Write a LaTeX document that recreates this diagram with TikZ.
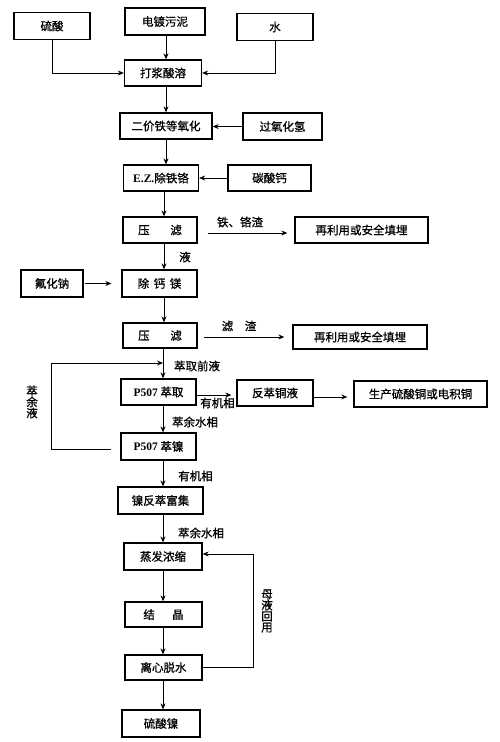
\documentclass[tikz,border=0pt]{standalone}
\usepackage{fontspec}
\setmainfont{Liberation Serif}
\newfontfamily\cjk[FakeBold=0.8]{Noto Sans CJK SC}
\usetikzlibrary{arrows.meta}
\tikzset{
  box/.style={draw, line width=1.3pt, inner sep=0pt, font=\cjk\fontsize{11.5}{12}\selectfont},
  lbl/.style={inner sep=0pt, font=\cjk\fontsize{11.5}{12}\selectfont},
  vlbl/.style={inner sep=0pt, align=center, font=\cjk\fontsize{11.5}{11}\selectfont},
  arr/.style={line width=0.9pt, -{Stealth[length=6pt,width=5pt]}},
  ln/.style={line width=0.9pt}
}
\newcommand{\bx}[5]{\node[box, minimum width=#3pt, minimum height=#4pt] (#1) at (#2) {#5};}
\begin{document}
\begin{tikzpicture}[x=1pt,y=-1pt]
\useasboundingbox (0,0) rectangle (500,742);
% boxes
\bx{acid}{52,26}{76}{27}{硫酸}
\bx{sludge}{165,21.5}{80}{27}{电镀污泥}
\bx{water}{275,27}{76}{27}{水}
\bx{pulp}{163,73}{77}{26}{打浆酸溶}
\bx{oxid}{166,126}{92}{26}{二价铁等氧化}
\bx{hoo}{282.5,126.5}{79}{27}{过氧化氢}
\bx{ez}{161,178}{75}{26}{{\rmfamily\bfseries E.Z.}除铁铬}
\bx{caco}{269.5,178}{83}{26}{碳酸钙}
\bx{pfa}{160,230}{74}{26}{压\hspace{1.8em}滤}
\bx{reusea}{361.5,230}{133}{26}{再利用或安全填埋}
\bx{rmca}{159.5,283.5}{75}{27}{除\hspace{0.4em}钙\hspace{0.4em}镁}
\bx{naf}{52,283.5}{62}{27}{氟化钠}
\bx{pfb}{160,335.5}{74}{25}{压\hspace{1.8em}滤}
\bx{reuseb}{360,337}{134}{24}{再利用或安全填埋}
\bx{ext}{158.5,392}{75}{26}{{\rmfamily\bfseries P507} 萃取}
\bx{cu}{275,393}{76}{26}{反萃铜液}
\bx{cuprod}{420.5,394}{133}{26}{生产硫酸铜或电积铜}
\bx{ni}{158.5,446.5}{75}{27}{{\rmfamily\bfseries P507} 萃镍}
\bx{strip}{160.5,500.5}{85}{27}{镍反萃富集}
\bx{evap}{163,556.5}{78}{27}{蒸发浓缩}
\bx{cryst}{163.5,614.5}{77}{25}{结\hspace{1.5em}晶}
\bx{cent}{163.5,667.5}{77}{25}{离心脱水}
\bx{niso}{161,723.5}{78}{27}{硫酸镍}
% helper coordinates
\coordinate (c166) at (166,0);
\coordinate (c164) at (164,0);
\coordinate (c163) at (163,0);
\coordinate (join) at (163,363);
\coordinate (lpc) at (51,363);
\coordinate (rt) at (253,554);
% top inputs
\draw[arr] (acid.south) |- (pulp.west);
\draw[arr] (water.south) |- (pulp.east);
\draw[arr] (sludge.south -| c166) -- (pulp.north -| c166);
% main column
\draw[arr] (pulp.south -| c166) -- (oxid.north -| c166);
\draw[arr] (oxid.south -| c166) -- (ez.north -| c166);
\draw[arr] (ez.south -| c164) -- (pfa.north -| c164);
\draw[arr] (pfa.south -| c164) -- (rmca.north -| c164);
\draw[arr] (rmca.south -| c164) -- (pfb.north -| c164);
\draw[arr] (pfb.south -| c163) -- (ext.north -| c163);
\draw[arr] (ext.south -| c163) -- (ni.north -| c163);
\draw[arr] (ni.south -| c163) -- (strip.north -| c163);
\draw[arr] (strip.south -| c163) -- (evap.north -| c163);
\draw[arr] (evap.south -| c163) -- (cryst.north -| c163);
\draw[arr] (cryst.south -| c163) -- (cent.north -| c163);
\draw[arr] (cent.south -| c163) -- (niso.north -| c163);
% side inputs
\draw[arr] (hoo.west) -- (oxid.east |- hoo.west);
\draw[arr] (caco.west) -- (ez.east |- caco.west);
\draw[arr, shorten <=10pt, shorten >=7pt] ([yshift=-3pt]pfa.east) -- ([yshift=-3pt]pfa.east -| reusea.west);
\draw[arr, shorten <=1pt, shorten >=10pt] (naf.east) -- (rmca.west |- naf.east);
\draw[arr, shorten <=6pt, shorten >=8pt] ([yshift=-1.5pt]pfb.east) -- ([yshift=-1.5pt]pfb.east -| reuseb.west);
\draw[arr, shorten >=5pt] ([yshift=-3pt]ext.east) -- ([yshift=-3pt]ext.east -| cu.west);
\draw[arr, shorten >=6pt] ([yshift=-4pt]cu.east) -- ([yshift=-4pt]cu.east -| cuprod.west);
% loops
\draw[arr] ([xshift=-9pt,yshift=-2.5pt]ni.west) -| (lpc) -- (join);
\draw[arr] ([yshift=0.5pt]cent.east) -| (rt) -- (rt -| evap.east);
% labels
\node[lbl] (l1) at (240,222) {铁、铬渣};
\node[lbl] (l2) at (185,257) {液};
\node[lbl] (l3) at (239,326) {滤\hspace{1em}渣};
\node[lbl] (l4) at (197,366) {萃取前液};
\node[lbl] (l5) at (217.5,403) {有机相};
\node[lbl] (l6) at (195,422) {萃余水相};
\node[lbl] (l7) at (195.5,476) {有机相};
\node[lbl] (l8) at (201,533) {萃余水相};
\node[vlbl] (l9) at (32,402) {萃\\余\\液};
\node[vlbl] (l10) at (267,611) {母\\液\\回\\用};
\end{tikzpicture}
\end{document}
